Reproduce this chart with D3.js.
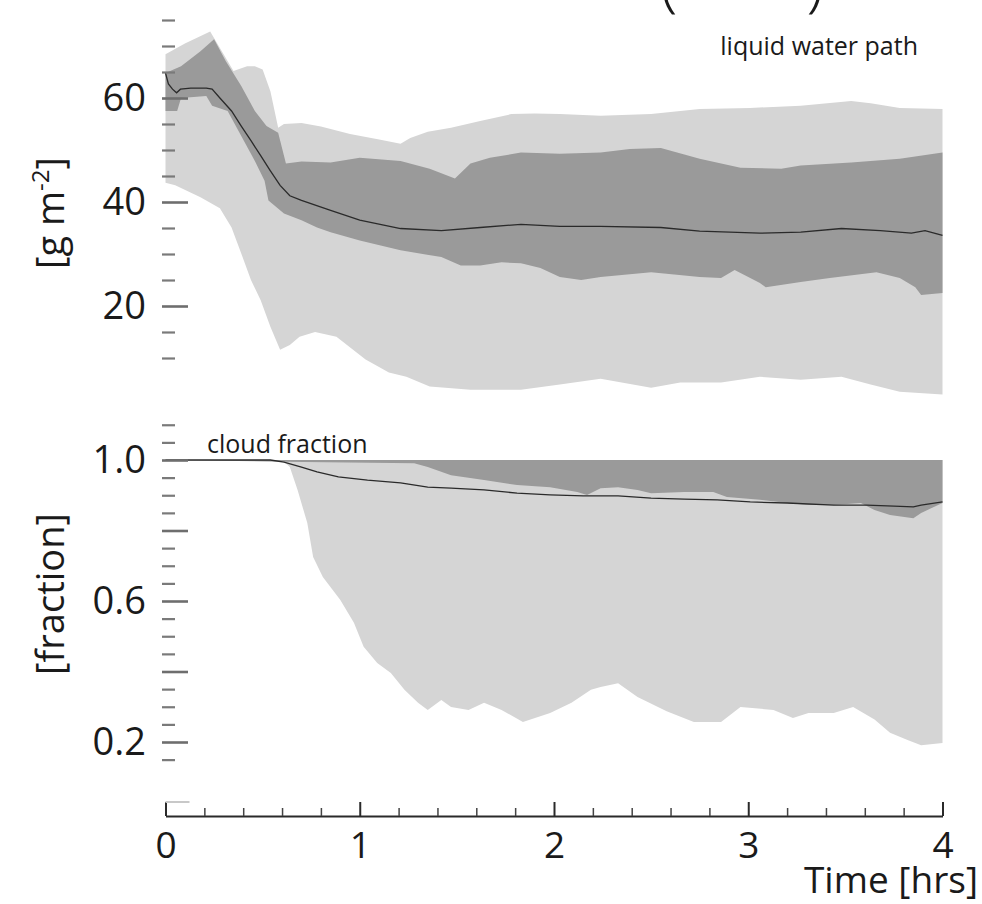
<!DOCTYPE html>
<html><head><meta charset="utf-8">
<script src="https://cdn.jsdelivr.net/npm/d3@7"></script>
<style>body{margin:0;background:#fff} svg{display:block} text{font-family:"Open Sans",sans-serif;fill:#1a1a1a}</style>
</head><body><svg id="c" width="982" height="904"></svg>
<script>
// ---- Data: liquid water path [g m-2] ----
const lwpMaxT = [0, 0.10, 0.23, 0.35, 0.42, 0.46, 0.50, 0.54, 0.58, 0.61, 0.70, 0.80, 0.95, 1.10, 1.21, 1.26, 1.35, 1.47, 1.62, 1.78, 1.90, 2.03, 2.24, 2.50, 2.75, 3.01, 3.27, 3.53, 3.63, 3.78, 4.0];
const lwpMax  = [68.4, 70.5, 72.8, 65.2, 66.1, 66.1, 65.5, 61.3, 54.3, 55.0, 55.2, 54.5, 53.1, 52.0, 51.2, 52.3, 53.5, 54.3, 55.6, 56.9, 57.0, 56.9, 56.6, 56.9, 57.9, 58.1, 58.5, 59.4, 59.0, 58.1, 57.9];
const lwpHiT = [0, 0.08, 0.18, 0.25, 0.31, 0.39, 0.46, 0.52, 0.58, 0.62, 0.70, 0.85, 1.00, 1.21, 1.36, 1.49, 1.57, 1.67, 1.83, 2.03, 2.24, 2.39, 2.55, 2.75, 2.96, 3.17, 3.27, 3.53, 3.78, 4.0];
const lwpHi  = [64.8, 66.1, 69.0, 71.3, 67.1, 62.3, 57.5, 54.6, 53.3, 47.4, 47.8, 47.6, 48.5, 47.9, 46.4, 44.5, 47.4, 48.5, 49.5, 49.3, 49.5, 50.2, 50.4, 48.3, 46.6, 46.4, 47.0, 47.6, 48.3, 49.5];
const lwpLoT = [0, 0.06, 0.08, 0.21, 0.24, 0.32, 0.39, 0.46, 0.51, 0.53, 0.61, 0.70, 0.78, 0.85, 1.00, 1.21, 1.42, 1.52, 1.62, 1.73, 1.83, 1.93, 2.03, 2.14, 2.24, 2.50, 2.75, 2.86, 2.93, 3.06, 3.09, 3.27, 3.42, 3.66, 3.78, 3.86, 3.89, 4.0];
const lwpLo  = [57.5, 57.5, 60.0, 60.4, 58.5, 57.5, 52.7, 47.9, 44.1, 40.3, 37.8, 36.5, 35.1, 34.2, 32.6, 30.7, 29.4, 27.8, 27.8, 28.4, 28.2, 27.3, 25.6, 25.0, 25.6, 26.5, 25.6, 25.4, 26.9, 24.4, 23.6, 24.6, 25.4, 26.5, 25.4, 23.6, 22.1, 22.5];
const lwpMinT = [0, 0.05, 0.18, 0.28, 0.34, 0.39, 0.44, 0.49, 0.54, 0.59, 0.64, 0.69, 0.77, 0.88, 1.03, 1.15, 1.24, 1.36, 1.57, 1.83, 2.03, 2.24, 2.50, 2.65, 2.86, 3.06, 3.27, 3.48, 3.63, 3.78, 4.0];
const lwpMin  = [43.7, 43.2, 40.9, 38.8, 35.1, 30.1, 25.0, 21.1, 16.0, 11.6, 12.5, 14.1, 15.0, 14.1, 9.7, 7.2, 6.4, 4.5, 3.9, 3.9, 4.9, 6.0, 4.3, 5.3, 5.3, 6.4, 5.8, 6.4, 4.9, 3.5, 3.0];
const lwpMedT = [0, 0.015, 0.036, 0.057, 0.077, 0.13, 0.21, 0.24, 0.28, 0.34, 0.39, 0.44, 0.49, 0.54, 0.59, 0.64, 0.70, 0.85, 1.00, 1.21, 1.42, 1.62, 1.83, 2.03, 2.24, 2.55, 2.75, 3.06, 3.27, 3.48, 3.68, 3.84, 3.91, 4.0];
const lwpMed  = [64.8, 62.7, 61.7, 61.0, 61.7, 61.9, 61.9, 61.7, 60.0, 57.5, 54.6, 51.8, 48.9, 46.0, 43.2, 41.2, 40.3, 38.4, 36.5, 34.9, 34.5, 35.1, 35.7, 35.3, 35.3, 35.1, 34.4, 34.0, 34.2, 34.9, 34.5, 34.0, 34.5, 33.6];

// ---- Data: cloud fraction ----
const cfMaxT = [0, 4.0];
const cfMax  = [1.0, 1.0];
const cfMinT = [0, 0.60, 0.64, 0.68, 0.73, 0.76, 0.81, 0.90, 0.97, 1.02, 1.09, 1.16, 1.23, 1.30, 1.35, 1.42, 1.47, 1.56, 1.64, 1.73, 1.84, 1.98, 2.09, 2.19, 2.24, 2.33, 2.43, 2.58, 2.72, 2.86, 2.96, 3.13, 3.23, 3.31, 3.44, 3.54, 3.65, 3.73, 3.82, 3.89, 4.0];
const cfMin  = [1.0, 1.0, 0.980, 0.915, 0.821, 0.725, 0.668, 0.603, 0.538, 0.470, 0.424, 0.396, 0.348, 0.311, 0.291, 0.319, 0.299, 0.291, 0.311, 0.291, 0.257, 0.282, 0.311, 0.348, 0.356, 0.367, 0.328, 0.287, 0.257, 0.257, 0.299, 0.291, 0.268, 0.282, 0.282, 0.299, 0.264, 0.226, 0.206, 0.191, 0.197];
const cfHiT = [0, 4.0];
const cfHi  = [1.0, 1.0];
const cfLoT = [0, 0.60, 1.28, 1.35, 1.47, 1.64, 1.81, 1.98, 2.12, 2.17, 2.24, 2.33, 2.43, 2.50, 2.67, 2.82, 2.89, 3.06, 3.20, 3.31, 3.44, 3.58, 3.65, 3.73, 3.85, 3.89, 4.0];
const cfLo  = [1.0, 0.995, 0.991, 0.980, 0.957, 0.943, 0.929, 0.923, 0.909, 0.901, 0.920, 0.923, 0.915, 0.906, 0.909, 0.909, 0.895, 0.887, 0.878, 0.872, 0.872, 0.878, 0.858, 0.844, 0.835, 0.850, 0.878];
const cfMedT = [0, 0.54, 0.61, 0.70, 0.78, 0.89, 1.04, 1.21, 1.35, 1.47, 1.64, 1.81, 1.98, 2.15, 2.33, 2.50, 2.67, 2.84, 3.01, 3.20, 3.44, 3.61, 3.75, 3.85, 3.89, 4.0];
const cfMed  = [1.0, 1.0, 0.994, 0.980, 0.966, 0.952, 0.943, 0.935, 0.923, 0.920, 0.915, 0.906, 0.901, 0.898, 0.898, 0.892, 0.889, 0.887, 0.881, 0.878, 0.872, 0.872, 0.869, 0.867, 0.872, 0.881];

// ---- Ticks ----
const xMajor = [0, 1, 2, 3, 4];
const xMinor = [0.2,0.4,0.6,0.8,1.2,1.4,1.6,1.8,2.2,2.4,2.6,2.8,3.2,3.4,3.6,3.8];
const topMajor = [20, 40, 60];
const topMinor = [10,15,25,30,35,45,50,55,65,70,75];
const botMajor = [0.2, 0.4, 0.6, 0.8, 1.0];
const botLabels = [0.2, 0.6, 1.0];
const botMinor = [0.15,0.25,0.3,0.35,0.45,0.5,0.55,0.65,0.7,0.75,0.85,0.9,0.95,1.05,1.1];

const LIGHT = "#d5d5d5", DARK = "#9a9a9a";
const svg = d3.select("#c");
const x = d3.scaleLinear().domain([0, 4]).range([165.5, 942.5]);
const yTop = d3.scaleLinear().domain([10, 75]).range([358, 20]);
const yBot = d3.scaleLinear().domain([0.2, 1.0]).range([742, 460]);

const pts = (T, V) => T.map((t, i) => ({t, v: V[i]}));
function band(y, upT, up, loT, lo, fill) {
  const line = d3.line().x(d => x(d.t)).y(d => y(d.v));
  const p = pts(upT, up).concat(pts(loT, lo).reverse());
  svg.append("path").attr("d", line(p) + "Z").attr("fill", fill);
}
function median(y, T, V) {
  const line = d3.line().x(d => x(d.t)).y(d => y(d.v));
  svg.append("path").attr("d", line(pts(T, V))).attr("fill", "none")
    .attr("stroke", "#2a2a2a").attr("stroke-width", 1.3);
}

// top panel
band(yTop, lwpMaxT, lwpMax, lwpMinT, lwpMin, LIGHT);
band(yTop, lwpHiT, lwpHi, lwpLoT, lwpLo, DARK);
median(yTop, lwpMedT, lwpMed);
// bottom panel
band(yBot, cfMaxT, cfMax, cfMinT, cfMin, LIGHT);
band(yBot, cfHiT, cfHi, cfLoT, cfLo, DARK);
median(yBot, cfMedT, cfMed);

// y axes
function yAxis(y, major, labels, minor, fmt) {
  const gM = svg.append("g").attr("transform", "translate(188,0)")
    .call(d3.axisLeft(y).tickValues(major).tickSize(26).tickPadding(16)
      .tickFormat(d => labels.includes(d) ? fmt(d) : ""));
  gM.select(".domain").remove();
  gM.selectAll("line").attr("stroke", "#6e6e6e").attr("stroke-width", 2.6);
  gM.selectAll("text").attr("font-size", 38).style("font-family", "'Open Sans',sans-serif").attr("fill", "#1a1a1a");
  const gm = svg.append("g").attr("transform", "translate(175,0)")
    .call(d3.axisLeft(y).tickValues(minor).tickSize(13).tickFormat(""));
  gm.select(".domain").remove();
  gm.selectAll("line").attr("stroke", "#7a7a7a").attr("stroke-width", 2.2);
}
yAxis(yTop, topMajor, topMajor, topMinor, d3.format("d"));
yAxis(yBot, botMajor, botLabels, botMinor, d3.format(".1f"));

// x axis
const gx = svg.append("g").attr("transform", "translate(0,816)")
  .call(d3.axisBottom(x).tickValues(xMajor).tickSize(-14).tickSizeOuter(0).tickPadding(16).tickFormat(d3.format("d")));
gx.select(".domain").attr("stroke", "#2a2a2a").attr("stroke-width", 2);
gx.selectAll("line").attr("stroke", "#2a2a2a").attr("stroke-width", 2);
gx.selectAll("text").attr("font-size", 37).style("font-family", "'Open Sans',sans-serif").attr("fill", "#1a1a1a");
const gxm = svg.append("g").attr("transform", "translate(0,816)")
  .call(d3.axisBottom(x).tickValues(xMinor).tickSize(-8).tickFormat(""));
gxm.select(".domain").remove();
gxm.selectAll("line").attr("stroke", "#444").attr("stroke-width", 1.5);
svg.append("line").attr("x1", x(0)).attr("x2", x(0) + 24).attr("y1", 802).attr("y2", 802)
  .attr("stroke", "#c8c8c8").attr("stroke-width", 2);

// texts
svg.append("text").attr("x", 978).attr("y", 893).attr("text-anchor", "end")
  .attr("font-size", 37).text("Time [hrs]");
svg.append("text").attr("x", 918).attr("y", 55).attr("text-anchor", "end")
  .attr("font-size", 25).attr("fill", "#333").text("liquid water path");
svg.append("text").attr("x", 207).attr("y", 453)
  .attr("font-size", 25).attr("fill", "#333").text("cloud fraction");

const yl1 = svg.append("text").attr("transform", "translate(64,213) rotate(-90)")
  .attr("text-anchor", "middle").attr("font-size", 38);
yl1.append("tspan").text("[g m");
yl1.append("tspan").attr("dy", -15).attr("font-size", 24).text("-2");
yl1.append("tspan").attr("dy", 15).text("]");
svg.append("text").attr("transform", "translate(64,594) rotate(-90)")
  .attr("text-anchor", "middle").attr("font-size", 38).text("[fraction]");

// cut-off title parentheses at the top edge (as in the reference)
svg.append("text").attr("x", 660).attr("y", 4).attr("font-size", 64).attr("font-weight", 300).text("(");
svg.append("text").attr("x", 824).attr("y", 4).attr("text-anchor", "end").attr("font-size", 64).attr("font-weight", 300).text(")");
</script></body></html>
